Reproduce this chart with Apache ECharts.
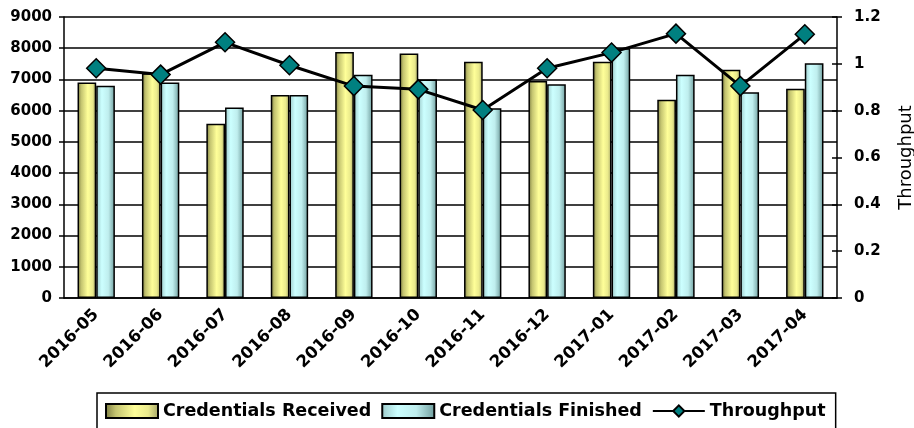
<!DOCTYPE html>
<html lang="en">

<head>
    <meta charset="UTF-8">
    <title>Credentials</title>
    <style>
        html, body { margin: 0; padding: 0; background: #fff; }
    </style>
</head>

<body>
    <div id="main" style="width: 914px;height:428px;"></div>
    <script src="https://cdn.jsdelivr.net/npm/echarts@6/dist/echarts.min.js"></script>
    <script>
    var months = ['2016-05', '2016-06', '2016-07', '2016-08', '2016-09', '2016-10',
        '2016-11', '2016-12', '2017-01', '2017-02', '2017-03', '2017-04'];
    var received = [6900, 7200, 5580, 6500, 7880, 7830, 7570, 6950, 7570, 6350, 7310, 6700];
    var finished = [6800, 6900, 6100, 6500, 7150, 7000, 6080, 6850, 8000, 7150, 6590, 7520];
    var throughput = [0.981, 0.954, 1.092, 0.994, 0.905, 0.891, 0.803, 0.981, 1.048, 1.129, 0.905, 1.126];

    var font = 'DejaVu Sans';

    function grad(stops) {
        return new echarts.graphic.LinearGradient(0, 0, 1, 0, stops);
    }
    var yellowFill = grad([
        { offset: 0, color: '#7a7a40' },
        { offset: 0.2, color: '#c4c470' },
        { offset: 0.55, color: '#ffff99' },
        { offset: 0.8, color: '#eaea8c' },
        { offset: 1, color: '#a3a366' }
    ]);
    var cyanFill = grad([
        { offset: 0, color: '#9cc9c9' },
        { offset: 0.3, color: '#ccffff' },
        { offset: 0.65, color: '#bfeeee' },
        { offset: 1, color: '#6e9c9c' }
    ]);

    var myChart = echarts.init(document.getElementById('main'));

    var option = {
        animation: false,
        backgroundColor: '#fff',
        grid: {
            left: 64,
            right: 77,
            top: 17,
            bottom: 130,
            outerBoundsMode: 'none'
        },
        legend: {
            left: 97,
            top: 393,
            padding: [9, 10, 20, 8],
            borderColor: '#000',
            borderWidth: 1.5,
            itemWidth: 52,
            itemHeight: 14,
            itemGap: 10,
            textStyle: {
                fontFamily: font,
                fontWeight: 'bold',
                fontSize: 17.5,
                color: '#000'
            },
            data: [
                { name: 'Credentials Received', icon: 'rect' },
                { name: 'Credentials Finished', icon: 'rect' },
                'Throughput'
            ]
        },
        xAxis: [{
            type: 'category',
            data: months,
            axisLine: { lineStyle: { color: '#000', width: 1.5 } },
            axisTick: { length: 6, lineStyle: { color: '#000', width: 1.5 } },
            axisLabel: {
                rotate: 45,
                margin: 14,
                fontFamily: font,
                fontWeight: 'bold',
                fontSize: 16.5,
                color: '#000'
            }
        }],
        yAxis: [{
            type: 'value',
            min: 0,
            max: 9000,
            interval: 1000,
            axisLine: { show: true, lineStyle: { color: '#000', width: 1.5 } },
            axisTick: { show: true, length: 5, lineStyle: { color: '#000', width: 1.5 } },
            axisLabel: {
                margin: 12,
                fontFamily: font,
                fontWeight: 'bold',
                fontSize: 15,
                color: '#000',
                formatter: function(v) {
                    return String(v);
                }
            },
            splitLine: { lineStyle: { color: '#000', width: 1.5 } }
        }, {
            type: 'value',
            min: 0,
            max: 1.2,
            interval: 0.2,
            position: 'right',
            name: 'Throughput',
            nameLocation: 'middle',
            nameRotate: 90,
            nameGap: 60,
            nameTextStyle: {
                fontFamily: font,
                fontSize: 18,
                color: '#000'
            },
            axisLine: { show: true, lineStyle: { color: '#000', width: 1.5 } },
            axisTick: { show: true, length: 5, lineStyle: { color: '#000', width: 1.5 } },
            axisLabel: {
                margin: 17,
                fontFamily: font,
                fontWeight: 'bold',
                fontSize: 15,
                color: '#000',
                formatter: function(v) {
                    return +v.toFixed(1) + '';
                }
            },
            splitLine: { show: false }
        }, {
            // inner half of the right-hand cross ticks
            type: 'value',
            min: 0,
            max: 1.2,
            interval: 0.2,
            position: 'right',
            axisLine: { show: false },
            axisTick: { show: true, inside: true, length: 5, lineStyle: { color: '#000', width: 1.5 } },
            axisLabel: { show: false },
            splitLine: { show: false }
        }],
        series: [{
            name: 'Credentials Received',
            type: 'bar',
            data: received,
            barGap: '0%',
            barCategoryGap: '42%',
            itemStyle: {
                color: yellowFill,
                borderColor: '#000',
                borderWidth: 1.5
            }
        }, {
            name: 'Credentials Finished',
            type: 'bar',
            data: finished,
            itemStyle: {
                color: cyanFill,
                borderColor: '#000',
                borderWidth: 1.5
            }
        }, {
            name: 'Throughput',
            type: 'line',
            yAxisIndex: 1,
            data: throughput,
            z: 5,
            symbol: 'diamond',
            symbolSize: 19,
            lineStyle: { color: '#000', width: 3 },
            itemStyle: {
                color: '#008080',
                borderColor: '#000',
                borderWidth: 1.5
            }
        }]
    };

    myChart.setOption(option);
    </script>
</body>

</html>
